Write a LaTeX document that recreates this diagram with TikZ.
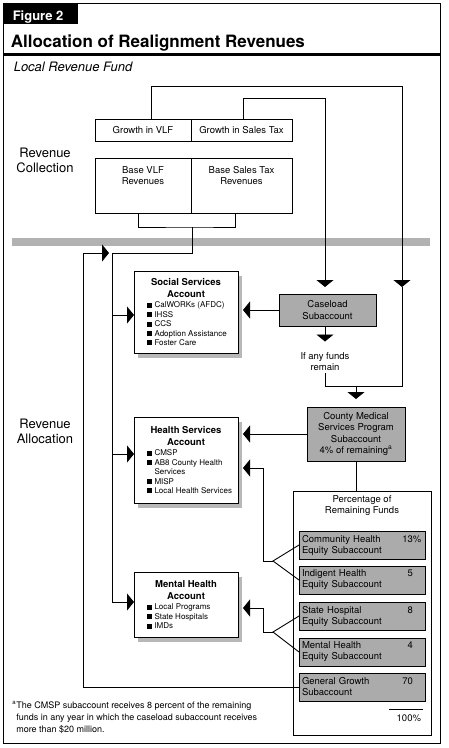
\documentclass[tikz,border=0pt]{standalone}
\usepackage{fontspec}
\setmainfont{TeX Gyre Heros}
\usetikzlibrary{arrows.meta,positioning,shadows}

\newcommand{\sq}{\rule{5pt}{5pt}\hspace{2.5pt}}
\newcommand{\accbody}[2]{%
  \begin{minipage}{104pt}\centering
    {\bfseries\fontsize{9.5}{12}\selectfont #1\par}
    \vspace{1pt}\raggedright\leftskip=13pt
    \fontsize{8}{9.4}\selectfont #2
  \end{minipage}}

\begin{document}
\begin{tikzpicture}[x=1pt, y=-1pt, line width=0.9pt,
  >={Triangle[width=17pt,length=7pt]},
  box/.style={draw, fill=white, outer sep=0pt, inner sep=2pt, align=center,
    font=\fontsize{9.5}{11.5}\selectfont},
  gbox/.style={box, fill=black!33},
  sub/.style={gbox, align=left, text width=120pt, minimum height=28pt, inner sep=3pt,
    font=\fontsize{9.5}{11}\selectfont},
  acct/.style={draw, fill=white, outer sep=0pt, inner sep=0pt, minimum width=104pt,
    drop shadow={shadow xshift=4pt, shadow yshift=-5pt, fill=black!28, opacity=1}},
  side/.style={align=center, font=\fontsize{13}{15}\selectfont},
  note/.style={align=center, inner sep=1pt, font=\fontsize{9.5}{11}\selectfont}]
  \useasboundingbox (0,0) rectangle (448,748);

  % heading
  \draw (3,3) rectangle (440,743);
  \fill (3,3) rectangle (78,24);
  \node[anchor=base west, text=white, font=\bfseries\fontsize{13}{15}\selectfont] (fig) at (9,20) {Figure 2};
  \node[anchor=base west, font=\bfseries\fontsize{17}{20}\selectfont] (ttl) at (7,47) {Allocation of Realignment Revenues};
  \draw[line width=3pt] (3,54.5) -- (440,54.5);
  \node[anchor=base west, font=\itshape\fontsize{13}{15}\selectfont] (lrf) at (10,71) {Local Revenue Fund};

  % revenue collection
  \node[side] (rcol) at (45,160) {Revenue\\Collection};
  \node[box, minimum width=96pt, minimum height=22pt] (gvlf) at (143,130) {Growth in VLF};
  \node[box, minimum width=101pt, minimum height=22pt, anchor=west] (gst) at (gvlf.east) {Growth in Sales Tax};
  \node[box, minimum width=96pt, minimum height=55pt,
    label={[box, draw=none, fill=none, yshift=10pt]center:{Base VLF\\Revenues}}] (bvlf) at (143,185.5) {};
  \node[box, minimum width=101pt, minimum height=55pt, anchor=west,
    label={[box, draw=none, fill=none, yshift=10pt]center:{Base Sales Tax\\Revenues}}] (bst) at (bvlf.east) {};

  \fill[black!30] (12,238) rectangle (430,246);

  % revenue allocation
  \node[side] (ralloc) at (45,431.5) {Revenue\\Allocation};
  \node[acct, minimum height=82pt] (ss) at (186,312)
    {\accbody{Social Services\\Account}{\sq CalWORKs (AFDC)\\\sq IHSS\\\sq CCS\\\sq Adoption Assistance\\\sq Foster Care}};
  \node[acct, minimum height=86pt] (hs) at (186,460)
    {\accbody{Health Services\\Account}{\sq CMSP\\\sq AB8 County Health\\\hspace*{7.5pt}Services\\\sq MISP\\\sq Local Health Services}};
  \node[acct, minimum height=65pt] (mh) at (186,604.5)
    {\accbody{Mental Health\\Account}{\sq Local Programs\\\sq State Hospitals\\\sq IMDs}};

  \node[gbox, minimum width=97pt, minimum height=32pt] (cl) at (327.5,310) {Caseload\\Subaccount};
  \node[note] (rem) at (325,362) {If any funds\\remain};
  \node[gbox, minimum width=98pt, minimum height=54pt, font=\fontsize{9.5}{11.3}\selectfont] (cm) at (356,434)
    {County Medical\\Services Program\\Subaccount\\4\% of remaining\textsuperscript{a}};

  \node[box, minimum width=138pt, minimum height=244pt, anchor=north] (pct) at (362,491) {};
  \node[note, below=3pt of pct.north] (pcth) {Percentage of\\Remaining Funds};
  \node[sub] (ch) at (362,545) {\makebox[111pt][l]{Community Health\hfill 13}\rlap{\%}\\Equity Subaccount};
  \node[sub, below=7pt of ch] (ih) {\makebox[111pt][l]{Indigent Health\hfill 5}\\Equity Subaccount};
  \node[sub, below=8pt of ih] (sh) {\makebox[111pt][l]{State Hospital\hfill 8}\\Equity Subaccount};
  \node[sub, below=8pt of sh] (mhe) {\makebox[111pt][l]{Mental Health\hfill 4}\\Equity Subaccount};
  \node[sub, below=7pt of mhe] (gg) {\makebox[111pt][l]{General Growth\hfill 70}\\Subaccount};
  \draw[line width=0.7pt] ([xshift=-36pt,yshift=-8pt]gg.south east) -- ([xshift=-2pt,yshift=-8pt]gg.south east);
  \node[anchor=base east, inner sep=0pt, font=\fontsize{9.5}{11}\selectfont] (tot)
    at ([xshift=-12pt,yshift=-20pt]gg.south east) {100\rlap{\%}};

  % connectors
  \coordinate (vlftop) at (402,86);
  \coordinate (sttop) at (325,98);
  \coordinate (vlfarr) at (402,287);
  \coordinate (rj) at (402,386);
  \coordinate (bj) at (192,227);
  \coordinate (lb) at (112,253);
  \coordinate (gl) at (83,253);
  \coordinate (f1) at (273,561);
  \coordinate (f1b) at (263,561);
  \coordinate (f2) at (273,632);
  \coordinate (f2b) at (263,632);

  \draw[->] ([xshift=8pt]gvlf.north) |- (vlftop) -- (vlfarr);
  \draw (vlfarr) -- (rj) -| (rem.south);
  \draw[->, shorten >=7pt] ([xshift=1.5pt]gst.north) |- (sttop) -- (sttop |- cl.north);
  \draw[->, shorten >=10pt] (cl.south -| rem) -- (rem.north);
  \draw[->, shorten >=5pt] (cl.west) -- (cl.west -| ss.east);
  \draw[->, shorten >=8pt] (cm.north |- rj) -- (cm.north);
  \draw[->, shorten >=5pt] (cm.west) -- (cm.west -| hs.east);
  \draw (cm.south) -- (cm.south |- pct.north);

  \draw ([xshift=-4.5pt]bvlf.south) |- (bj) -| ([xshift=-6pt]bst.south);
  \draw[->] (bj) |- (lb) |- ([yshift=2.5pt]mh.west);
  \draw[->] ([yshift=-3pt]ss.west -| lb) -- ([yshift=-3pt]ss.west);
  \draw[->] ([yshift=6pt]hs.west -| lb) -- ([yshift=6pt]hs.west);

  \draw (ch.west) -- (f1) -- (ih.west);
  \draw[->, shorten >=5pt] (f1) -- (f1b) |- ([yshift=-8pt]hs.east);
  \draw (sh.west) -- (f2) -- (mhe.west);
  \draw[->, shorten >=5pt] (f2) -- (f2b) |- ([yshift=-3.5pt]mh.east);
  \draw[->] (gg.west) -| (gl) -- ([xshift=-3pt]lb);

  % footnote
  \node[anchor=north west, align=left, inner sep=0pt, font=\fontsize{9}{12}\selectfont] (fn) at (12,701)
    {\textsuperscript{a}The CMSP subaccount receives 8 percent of the remaining\\
     \phantom{\textsuperscript{a}}funds in any year in which the caseload subaccount receives\\
     \phantom{\textsuperscript{a}}more than \$20 million.};
\end{tikzpicture}
\end{document}
